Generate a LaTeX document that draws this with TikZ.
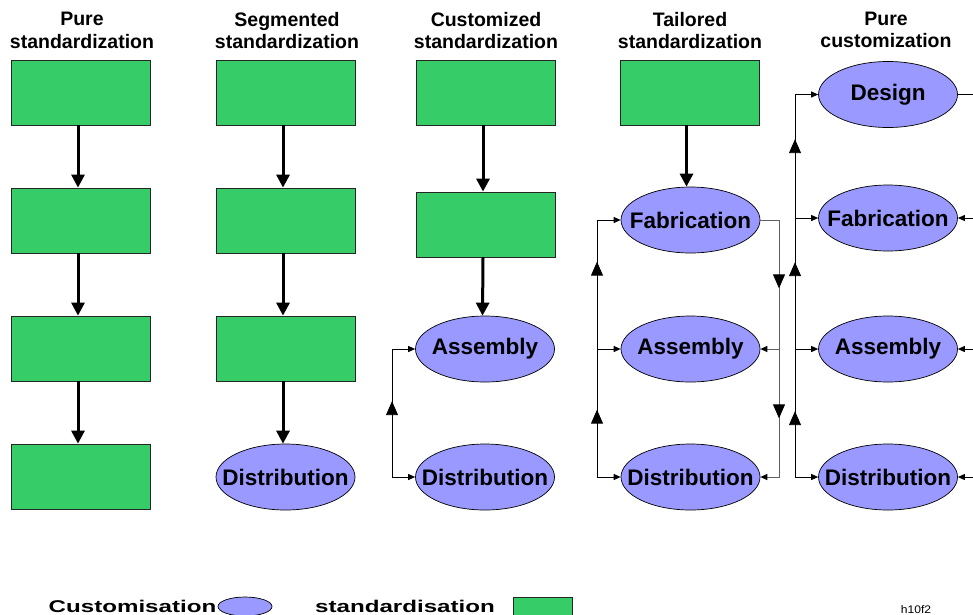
\documentclass[tikz,border=0pt]{standalone}
\usepackage{fontspec}
\setmainfont{Liberation Sans}
\usetikzlibrary{arrows.meta,calc,decorations.markings,shapes.geometric}
\definecolor{stdgreen}{HTML}{36CC67}
\definecolor{custblue}{HTML}{9999FF}
\definecolor{railgray}{HTML}{606060}
\tikzset{
  x=1pt, y=-1pt,
  title/.style={align=center, font=\fontsize{19.5}{22.5}\selectfont\bfseries, inner sep=0},
  stdbox/.style={draw=black!85, line width=0.8pt, fill=stdgreen, minimum width=139pt, minimum height=65pt, inner sep=0},
  custell/.style={ellipse, draw=black, line width=0.7pt, fill=custblue, minimum width=139pt, minimum height=66pt, inner xsep=-25pt, inner ysep=0pt, font=\fontsize{22.5}{24}\selectfont\bfseries},
  thickarrow/.style={line width=3pt, -{Triangle[length=13pt,width=13pt]}},
  thinline/.style={line width=0.9pt},
  smallhead/.tip={Triangle[length=7pt,width=6pt,color=black]},
  bigtip/.tip={Triangle[length=14pt,width=12pt,color=black]},
  midtip/.style={postaction={decorate,decoration={markings,mark=at position #1 with {\arrow{bigtip}}}}},
  legend/.style={font=\fontsize{17}{20}\selectfont\bfseries, inner sep=0, anchor=base}
}
\begin{document}
\begin{tikzpicture}
\useasboundingbox (0,0) rectangle (973,614);
% titles
\node[title] (t1) at (82,30.5) {Pure\\standardization};
\node[title] (t2) at (287,30.5) {Segmented\\standardization};
\node[title] (t3) at (486,30.5) {Customized\\standardization};
\node[title] (t4) at (690,30.5) {Tailored\\standardization};
\node[title] (t5) at (886,30) {Pure\\customization};

% column 1
\node[stdbox] (a1) at (80.5,92.5) {};
\node[stdbox] (a2) at (80.5,220.5) {};
\node[stdbox] (a3) at (80.5,348.5) {};
\node[stdbox] (a4) at (80.5,476.5) {};
\draw[thickarrow] ($(a1.south)+(-2.5,0)$) -- ($(a2.north)+(-2.5,0)$);
\draw[thickarrow] ($(a2.south)+(-2.5,0)$) -- ($(a3.north)+(-2.5,0)$);
\draw[thickarrow] ($(a3.south)+(-2.5,0)$) -- ($(a4.north)+(-2.5,0)$);

% column 2
\node[stdbox] (b1) at (285.5,92.5) {};
\node[stdbox] (b2) at (285.5,220.5) {};
\node[stdbox] (b3) at (285.5,348.5) {};
\node[custell] (b4) at (285.5,477) {Distribution};
\draw[thickarrow] ($(b1.south)+(-2.5,0)$) -- ($(b2.north)+(-2.5,0)$);
\draw[thickarrow] ($(b2.south)+(-2.5,0)$) -- ($(b3.north)+(-2.5,0)$);
\draw[thickarrow] ($(b3.south)+(-2.5,0)$) -- ($(b4.north)+(-2.5,0)$);

% column 3
\node[stdbox] (c1) at (485.5,92.5) {};
\node[stdbox] (c2) at (485.5,224.5) {};
\node[custell] (c3) at (485,349) {Assembly};
\node[custell] (c4) at (485,477) {Distribution};
\draw[thickarrow] ($(c1.south)+(-2.5,0)$) -- ($(c2.north)+(-2.5,0)$);
\draw[thickarrow] ($(c2.south)+(-2.5,0)$) -- ($(c3.north)+(-2.5,0)$);
\coordinate (l3b) at (392,477);
\coordinate (l3t) at (392,349);
\draw[thinline, smallhead-smallhead, midtip=99pt] (c4.west) -- (l3b) -- (l3t) -- (c3.west);

% column 4
\node[stdbox] (d1) at (689.5,92.5) {};
\node[custell] (d2) at (690.5,220) {Fabrication};
\node[custell] (d3) at (690.5,349) {Assembly};
\node[custell] (d4) at (690.5,477) {Distribution};
\draw[thickarrow] ($(d1.south)+(-3,0)$) -- ($(d2.north)+(-4,0)$);
\coordinate (l4b) at (597,477);
\coordinate (l4t) at (597,220);
\coordinate (l4m) at (597,349);
\draw[thinline, smallhead-smallhead, midtip=91pt, midtip=239pt] (d4.west) -- (l4b) -- (l4t) -- (d2.west);
\draw[thinline, -smallhead] (l4m) -- (d3.west);
\coordinate (r4t) at (779,220);
\coordinate (r4b) at (779,477);
\coordinate (r4m) at (779,349);
\draw[thinline, draw=railgray, -smallhead, midtip=87pt, midtip=217pt] (d2.east) -- (r4t) -- (r4b) -- (d4.east);
\draw[thinline, draw=railgray, -smallhead] (r4m) -- (d3.east);

% column 5
\node[custell] (e1) at (888,94.5) {Design};
\node[custell] (e2) at (888,218) {Fabrication};
\node[custell] (e3) at (888,349) {Assembly};
\node[custell] (e4) at (888,477) {Distribution};
\coordinate (l5b) at (795,477);
\coordinate (l5t) at (795,94.5);
\coordinate (l5f) at (795,218);
\coordinate (l5a) at (795,349);
\draw[thinline, smallhead-smallhead, midtip=89pt, midtip=238pt, midtip=361pt] (e4.west) -- (l5b) -- (l5t) -- (e1.west);
\draw[thinline, -smallhead] (l5f) -- (e2.west);
\draw[thinline, -smallhead] (l5a) -- (e3.west);
\coordinate (r5d) at (975,94.5);
\coordinate (r5f) at (975,218);
\coordinate (r5a) at (975,349);
\coordinate (r5b) at (975,477);
\draw[thinline] (e1.east) -- (r5d);
\draw[thinline, -smallhead] (r5f) -- (e2.east);
\draw[thinline, -smallhead] (r5a) -- (e3.east);
\draw[thinline, -smallhead] (r5b) -- (e4.east);

% legend
\node[legend] (lg1) at (132.5,612) {\scalebox{1.42}[1]{Customisation}};
\node[ellipse, draw=black, line width=0.7pt, fill=custblue, minimum width=54pt, minimum height=19pt, inner sep=0] (lg2) at (245,606.5) {};
\node[legend] (lg3) at (405,612) {\scalebox{1.42}[1]{standardisation}};
\node[draw=black!85, line width=0.8pt, fill=stdgreen, minimum width=59pt, minimum height=26pt, inner sep=0] (lg4) at (542.5,610) {};
\node[font=\fontsize{11}{13}\selectfont, inner sep=0, anchor=base] (lg5) at (916,613) {\scalebox{1.1}[1]{h10f2}};
\end{tikzpicture}
\end{document}
